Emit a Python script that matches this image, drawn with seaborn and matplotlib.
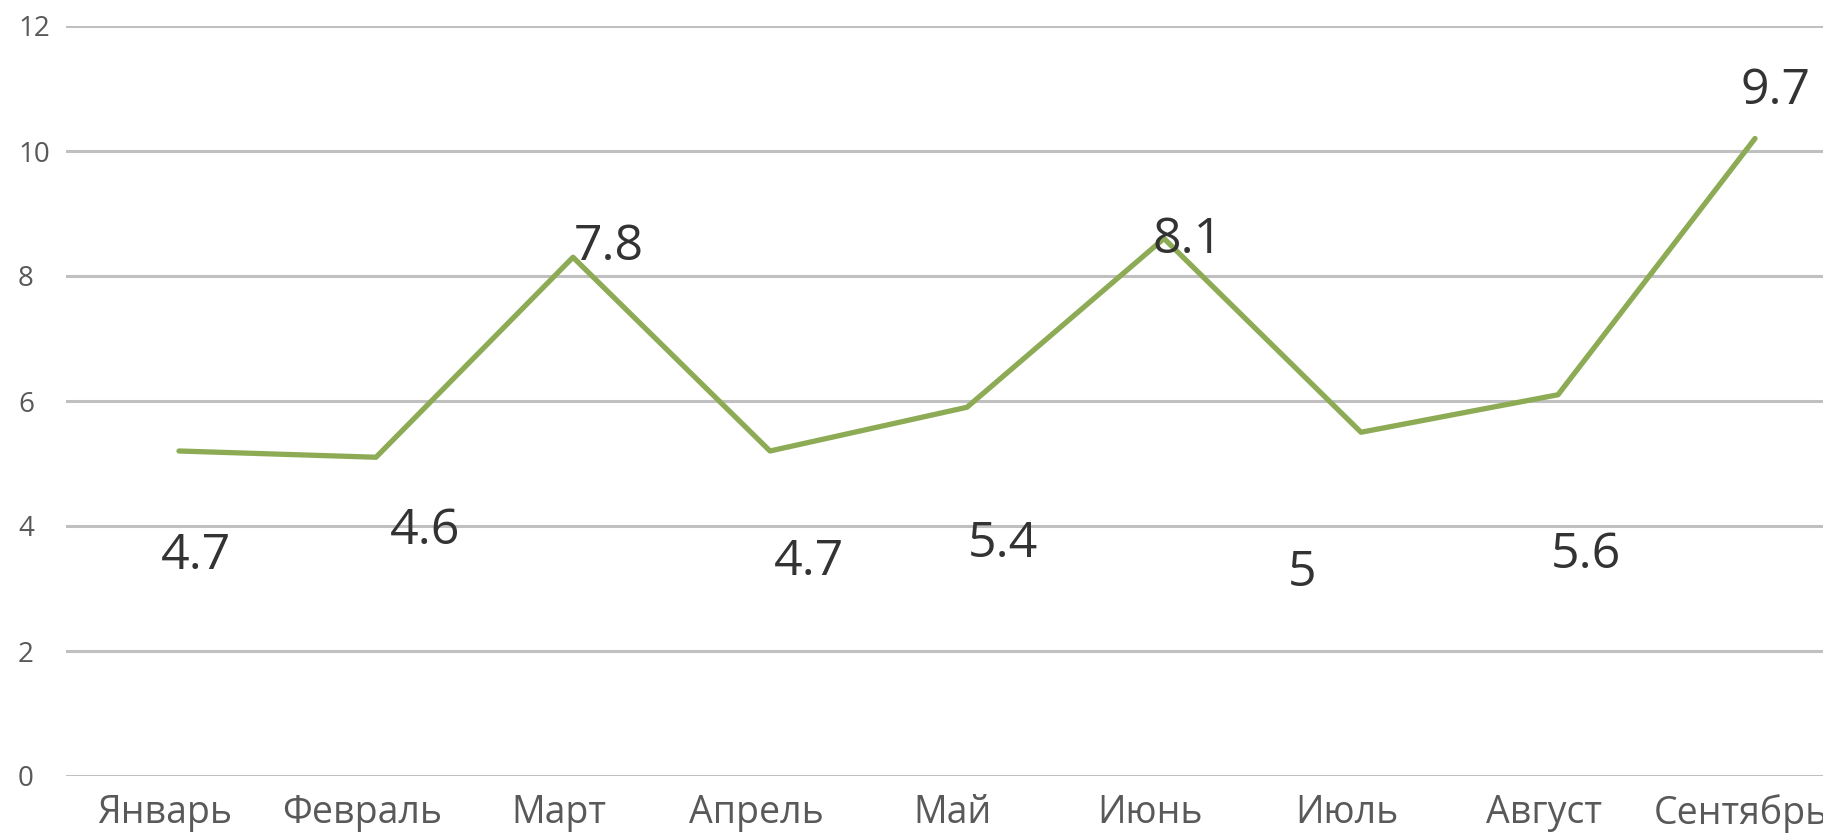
import matplotlib
matplotlib.use("Agg")
import matplotlib.pyplot as plt
import matplotlib.transforms as mtransforms
import seaborn as sns
import pandas as pd

months = ["Январь", "Февраль", "Март", "Апрель", "Май", "Июнь", "Июль", "Август", "Сентябрь"]
line_values = [5.2, 5.1, 8.3, 5.2, 5.9, 8.6, 5.5, 6.1, 10.2]
label_texts = ["4.7", "4.6", "7.8", "4.7", "5.4", "8.1", "5", "5.6", "9.7"]
y_ticks = [0, 2, 4, 6, 8, 10, 12]

# label offsets from the point, in pixels (dx right, dy up)
label_dx = [17, 49, 36, 39, 36, 24, -59, 28, 21]
label_dy = [-105, -74, 10, -111, -137, -2, -141, -160, 47]

sns.set_theme(style="white")
plt.rcParams["font.family"] = ["Open Sans", "DejaVu Sans"]

df = pd.DataFrame({"x": list(range(len(months))), "v": line_values})

fig = plt.figure(figsize=(18.24, 8.39), dpi=100)
W, H = 1824, 839
ax_left, ax_right = 66, 1824
ax_bottom, ax_top = 776, 26
ax = fig.add_axes([ax_left / W, (H - ax_bottom) / H, (ax_right - ax_left) / W, (ax_bottom - ax_top) / H])

sns.lineplot(data=df, x="x", y="v", ax=ax, color="#8dab55", linewidth=3.8, legend=False)

ax.set_ylim(0, 12)
spacing = 197.0
ax.set_xlim(-(179 - ax_left) / spacing, (ax_right - 179) / spacing)

ax.set_yticks(y_ticks)
ax.set_yticklabels([str(t) for t in y_ticks], fontsize=20, color="#595959", fontweight="medium")
for lab in ax.get_yticklabels():
    lab.set_horizontalalignment("left")
ax.tick_params(axis="y", length=0, pad=34.5)

ax.set_xticks(list(range(len(months))))
ax.set_xticklabels(months, fontsize=27, color="#595959", fontweight="medium")
ax.tick_params(axis="x", length=0, pad=13)
shift = mtransforms.ScaledTranslation(-14 / 100, 0, fig.dpi_scale_trans)
for lab in ax.get_xticklabels():
    lab.set_transform(lab.get_transform() + shift)

ax.grid(axis="y", color="#c0c0c0", linewidth=2.2)
ax.grid(axis="x", visible=False)
ax.set_axisbelow(True)
for s in ax.spines.values():
    s.set_visible(False)
ax.set_xlabel("")
ax.set_ylabel("")

for i, (v, t) in enumerate(zip(line_values, label_texts)):
    ax.annotate(t, xy=(i, v), xytext=(label_dx[i], label_dy[i]), textcoords="offset pixels",
                ha="center", va="center", fontsize=36, color="#333333", fontweight="medium",
                annotation_clip=False)

fig.savefig("out.png", dpi=100, facecolor="white")
